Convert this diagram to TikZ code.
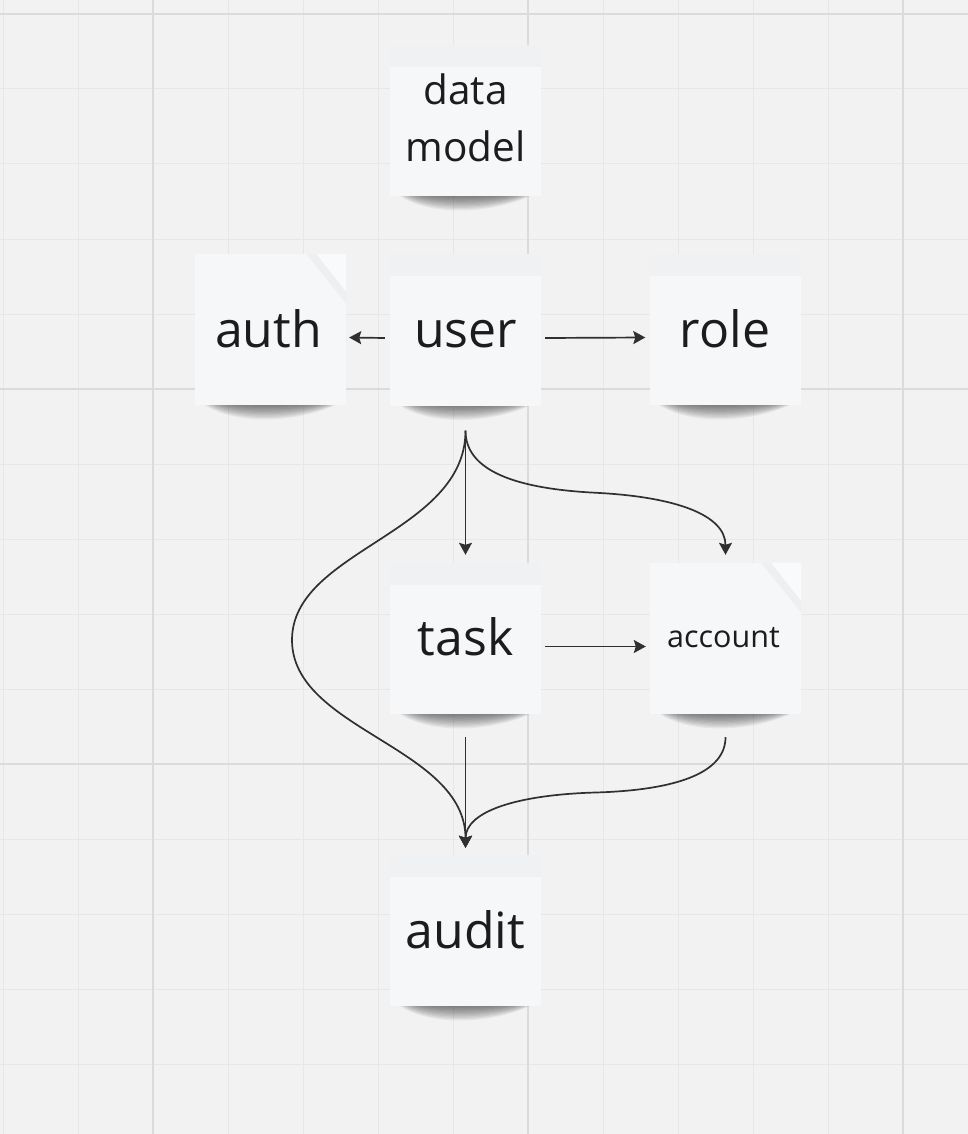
\documentclass[tikz,border=0pt]{standalone}
\usepackage{fontspec}
\setmainfont{Open Sans}
\usetikzlibrary{calc,arrows.meta}

\pgfdeclarelayer{grid}
\pgfdeclarelayer{shadow}
\pgfsetlayers{grid,shadow,main}

\definecolor{canvas}{HTML}{F2F2F2}
\definecolor{gridminor}{HTML}{E7E7E7}
\definecolor{gridmajor}{HTML}{DBDBDB}
\definecolor{paper}{HTML}{F6F7F9}
\definecolor{tape}{HTML}{F0F1F3}
\definecolor{flap}{HTML}{F9FAFB}
\definecolor{crease}{HTML}{ECEDEF}
\definecolor{ink}{HTML}{1C1C1C}
\definecolor{wire}{HTML}{303030}

\tikzset{
  note/.style={rectangle, fill=paper, minimum width=151pt, minimum height=151pt, inner sep=0pt},
  word/.style={font=\fontsize{50}{60}\selectfont, text=ink, anchor=base, inner sep=0pt},
  smallword/.style={font=\fontsize{30.5}{36}\selectfont, text=ink, anchor=base, inner sep=0pt},
  link/.style={draw=wire, line width=1.7pt, -{Stealth[length=12pt 0 0,width=13pt 0 0,inset=2pt 0]}},
}

% soft shadow under the lower edge of a note
\newcommand\noteshadow[1]{%
  \foreach \j in {1,...,12}{%
    \fill[black, opacity=0.05]
      ($(#1.south west)+(24-1.6*\j,-4)$)
      .. controls ($(#1.south west)+(34,1.7*\j)$) and ($(#1.south east)+(-50,1.7*\j)$) ..
      ($(#1.south east)+(-16+1.1*\j,-4)$) -- cycle;
  }}
% slightly darker strip of tape along the top of a note
\newcommand\notetape[1]{%
  \fill[tape] (#1.north west) rectangle ($(#1.north east)+(0,22)$);}
% folded top-right corner of a note: a light flap over a faint crease
\newcommand\notefold[1]{%
  \fill[crease, opacity=0.8] ($(#1.north east)+(-40,0)$) -- ($(#1.north east)+(0,50)$)
      -- ($(#1.north east)+(0,38)$) -- ($(#1.north east)+(-30,0)$) -- cycle;
  \fill[flap] ($(#1.north east)+(-30,0)$) -- (#1.north east) -- ($(#1.north east)+(0,38)$) -- cycle;}

\begin{document}
\begin{tikzpicture}[x=1pt, y=-1pt]
\useasboundingbox (0,0) rectangle (968,1134);

% board with grid
\begin{pgfonlayer}{grid}
  \fill[canvas] (0,0) rectangle (968,1134);
  \foreach \x in {3,78,...,903} \draw[gridminor, line width=1pt] (\x,0) -- (\x,1134);
  \foreach \y in {14,89,...,1064} \draw[gridminor, line width=1pt] (0,\y) -- (968,\y);
  \foreach \x in {153,528,903} \draw[gridmajor, line width=1.6pt] (\x,0) -- (\x,1134);
  \foreach \y in {14,389,764} \draw[gridmajor, line width=1.6pt] (0,\y) -- (968,\y);
\end{pgfonlayer}

% sticky notes
\node[note] (data)    at (465.5,120.5) {};
\node[note] (auth)    at (270.5,329.5) {};
\node[note] (user)    at (465.5,330)   {};
\node[note] (role)    at (725,329.5)   {};
\node[note] (task)    at (465.5,638.5) {};
\node[note] (account) at (725.5,638.5) {};
\node[note] (audit)   at (465.5,930.5) {};

\begin{pgfonlayer}{shadow}
  \foreach \n in {data,auth,user,role,task,account,audit} {\noteshadow{\n}}
\end{pgfonlayer}

\foreach \n in {data,user,role,task,audit} {\notetape{\n}}
\foreach \n in {auth,account} {\notefold{\n}}

% labels
\node[font=\fontsize{40.5}{57.4}\selectfont, text=ink, align=center, inner sep=0pt]
  (datatxt) at ($(data.center)+(0,-2.9)$) {data\\model};
\node[word] (authtxt) at ($(auth.center)+(-2,17.5)$) {auth};
\node[word] (usertxt) at ($(user.center)+(0,17)$) {user};
\node[word] (roletxt) at ($(role.center)+(0,17.5)$) {role};
\node[word] (tasktxt) at ($(task.center)+(0,16.5)$) {task};
\node[smallword] (accounttxt) at ($(account.center)+(-2,8.5)$) {account};
\node[word] (audittxt) at ($(audit.center)+(0,17.5)$) {audit};

% connector ends
\coordinate (uS) at ($(user.south)+(0,25)$);
\coordinate (tS) at ($(task.south)+(0,23)$);
\coordinate (aS) at ($(account.south)+(0,23)$);
\coordinate (tN) at ($(task.north)+(0,-8)$);
\coordinate (aN) at ($(account.north)+(0,-8)$);
\coordinate (dN) at ($(audit.north)+(0,-7)$);

% connectors
\draw[link] ($(user.west)+(-5,8)$) -- ($(auth.east)+(3,8)$);
\draw[link] ($(user.east)+(4,8)$) -- ($(role.west)+(-4,8)$);
\draw[link] ($(task.east)+(4,8)$) -- ($(account.west)+(-4,8)$);
\draw[link] (uS) -- (tN);
\draw[link] (uS) .. controls ($(uS)+(0,40)$) and ($(uS)+(50,58)$) .. ($(uS)!0.5!(aN)$)
            .. controls ($(aN)+(-50,-58)$) and ($(aN)+(0,-40)$) .. (aN);
\draw[link] (uS) .. controls ($(uS)+(0,103)$) and (292,550) .. (292,640)
            .. controls (292,730) and ($(dN)+(0,-101)$) .. (dN);
\draw[link] (tS) -- (dN);
\draw[link] (aS) .. controls ($(aS)+(0,36)$) and ($(aS)+(-50,53)$) .. ($(aS)!0.5!(dN)$)
            .. controls ($(dN)+(50,-53)$) and ($(dN)+(0,-36)$) .. (dN);
\end{tikzpicture}
\end{document}
